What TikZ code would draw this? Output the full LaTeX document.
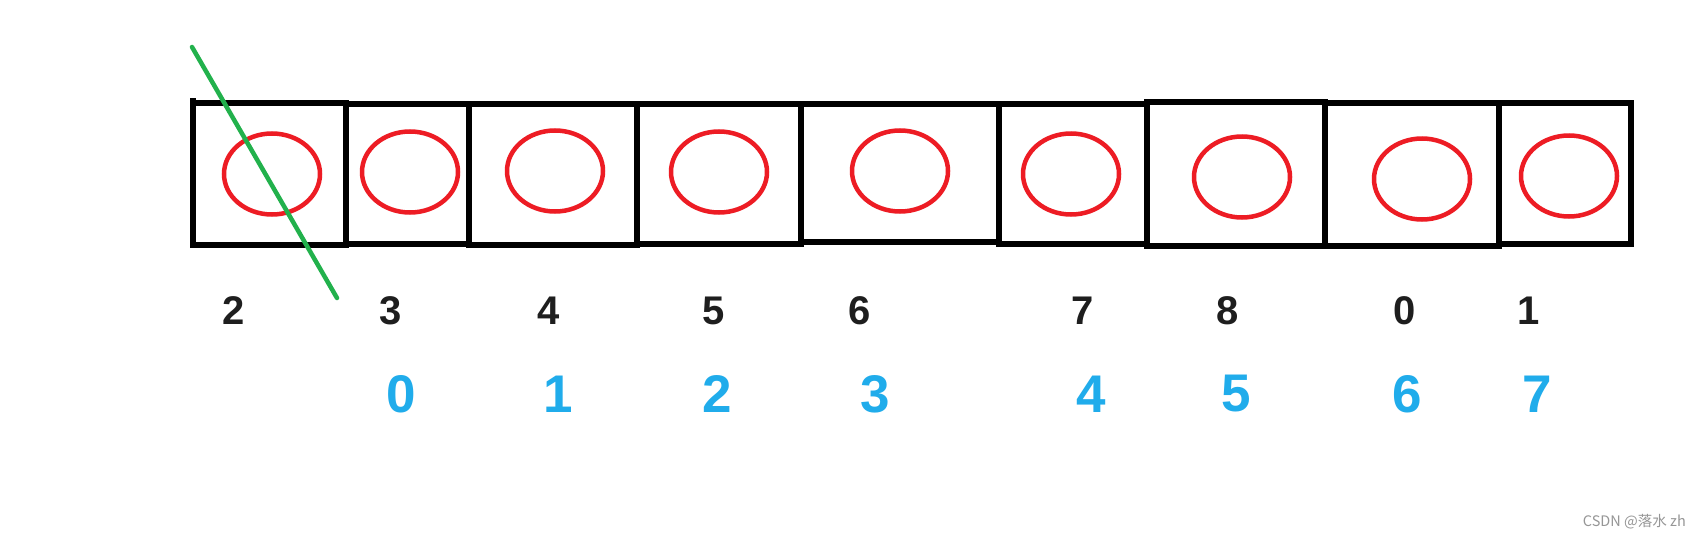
\documentclass[tikz,border=0pt]{standalone}
\usepackage{fontspec}
\setmainfont{Liberation Sans}
\newfontfamily\cjk{Noto Sans CJK SC}
\usetikzlibrary{shapes.geometric}
\definecolor{pred}{RGB}{237,28,36}
\definecolor{pgreen}{RGB}{34,177,76}
\definecolor{pblue}{RGB}{32,172,235}
\definecolor{pblack}{RGB}{30,30,30}
\definecolor{wmgray}{RGB}{150,150,150}
\begin{document}
\begin{tikzpicture}[x=1pt,y=-1pt,
  cellbox/.style={draw=black,line width=5.2pt,rectangle,inner sep=0pt,outer sep=0pt},
  ring/.style={draw=pred,line width=4.5pt,ellipse,inner sep=0pt,minimum width=96pt,minimum height=81pt},
  toplabel/.style={text=pblack,font=\fontsize{40}{41}\selectfont\bfseries,inner sep=0pt},
  botlabel/.style={text=pblue,font=\fontsize{53}{54}\selectfont\bfseries,inner sep=0pt},
  strike/.style={draw=pgreen,line width=4.5pt,line cap=round}]
\useasboundingbox (0,0) rectangle (1700,538);
\fill[white] (0,0) rectangle (1700,538);
% cells
\node[cellbox,minimum width=153pt,minimum height=142pt] (c1) at (269.5,174) {};
\node[cellbox,minimum width=123pt,minimum height=140pt] (c2) at (407.5,174) {};
\node[cellbox,minimum width=168pt,minimum height=141pt] (c3) at (553,174.5) {};
\node[cellbox,minimum width=164pt,minimum height=140pt] (c4) at (719,174) {};
\node[cellbox,minimum width=198pt,minimum height=138pt] (c5) at (900,173) {};
\node[cellbox,minimum width=148pt,minimum height=140pt] (c6) at (1073,174) {};
\node[cellbox,minimum width=178pt,minimum height=144pt] (c7) at (1236,174) {};
\node[cellbox,minimum width=174pt,minimum height=143pt] (c8) at (1412,174.5) {};
\node[cellbox,minimum width=132pt,minimum height=141pt] (c9) at (1565,173.5) {};
\draw[line width=5.2pt] ([yshift=5pt]c1.north west) -- (c1.north west);
% ellipses
\node[ring] (e1) at (272,174) {};
\node[ring] (e2) at (410,172) {};
\node[ring] (e3) at (555,171) {};
\node[ring] (e4) at (719,172) {};
\node[ring] (e5) at (900,171) {};
\node[ring] (e6) at (1071,174) {};
\node[ring] (e7) at (1242,177) {};
\node[ring] (e8) at (1422,179) {};
\node[ring] (e9) at (1569,176) {};
% green strike line
\coordinate (g1) at (192,47);
\coordinate (g2) at (337,298);
\draw[strike] (g1) -- (g2);
% top labels
\node[toplabel] (t1) at (234,311) {2};
\node[toplabel] (t2) at (391,311) {3};
\node[toplabel] (t3) at (549,311) {4};
\node[toplabel] (t4) at (714,311) {5};
\node[toplabel] (t5) at (860,311) {6};
\node[toplabel] (t6) at (1083,311) {7};
\node[toplabel] (t7) at (1228,311) {8};
\node[toplabel] (t8) at (1405,311) {0};
\node[toplabel] (t9) at (1529,311) {1};
% bottom labels
\node[botlabel] (b1) at (401,394) {0};
\node[botlabel] (b2) at (558,394) {1};
\node[botlabel] (b3) at (717,394) {2};
\node[botlabel] (b4) at (875,394) {3};
\node[botlabel] (b5) at (1091,394) {4};
\node[botlabel] (b6) at (1236,394) {5};
\node[botlabel] (b7) at (1407,394) {6};
\node[botlabel] (b8) at (1537,394) {7};
% watermark
\node[anchor=east,inner sep=0pt,text=wmgray,font=\cjk\fontsize{14.5}{16}\selectfont] (wm) at (1686,522) {CSDN @落水 zh};
\end{tikzpicture}
\end{document}
